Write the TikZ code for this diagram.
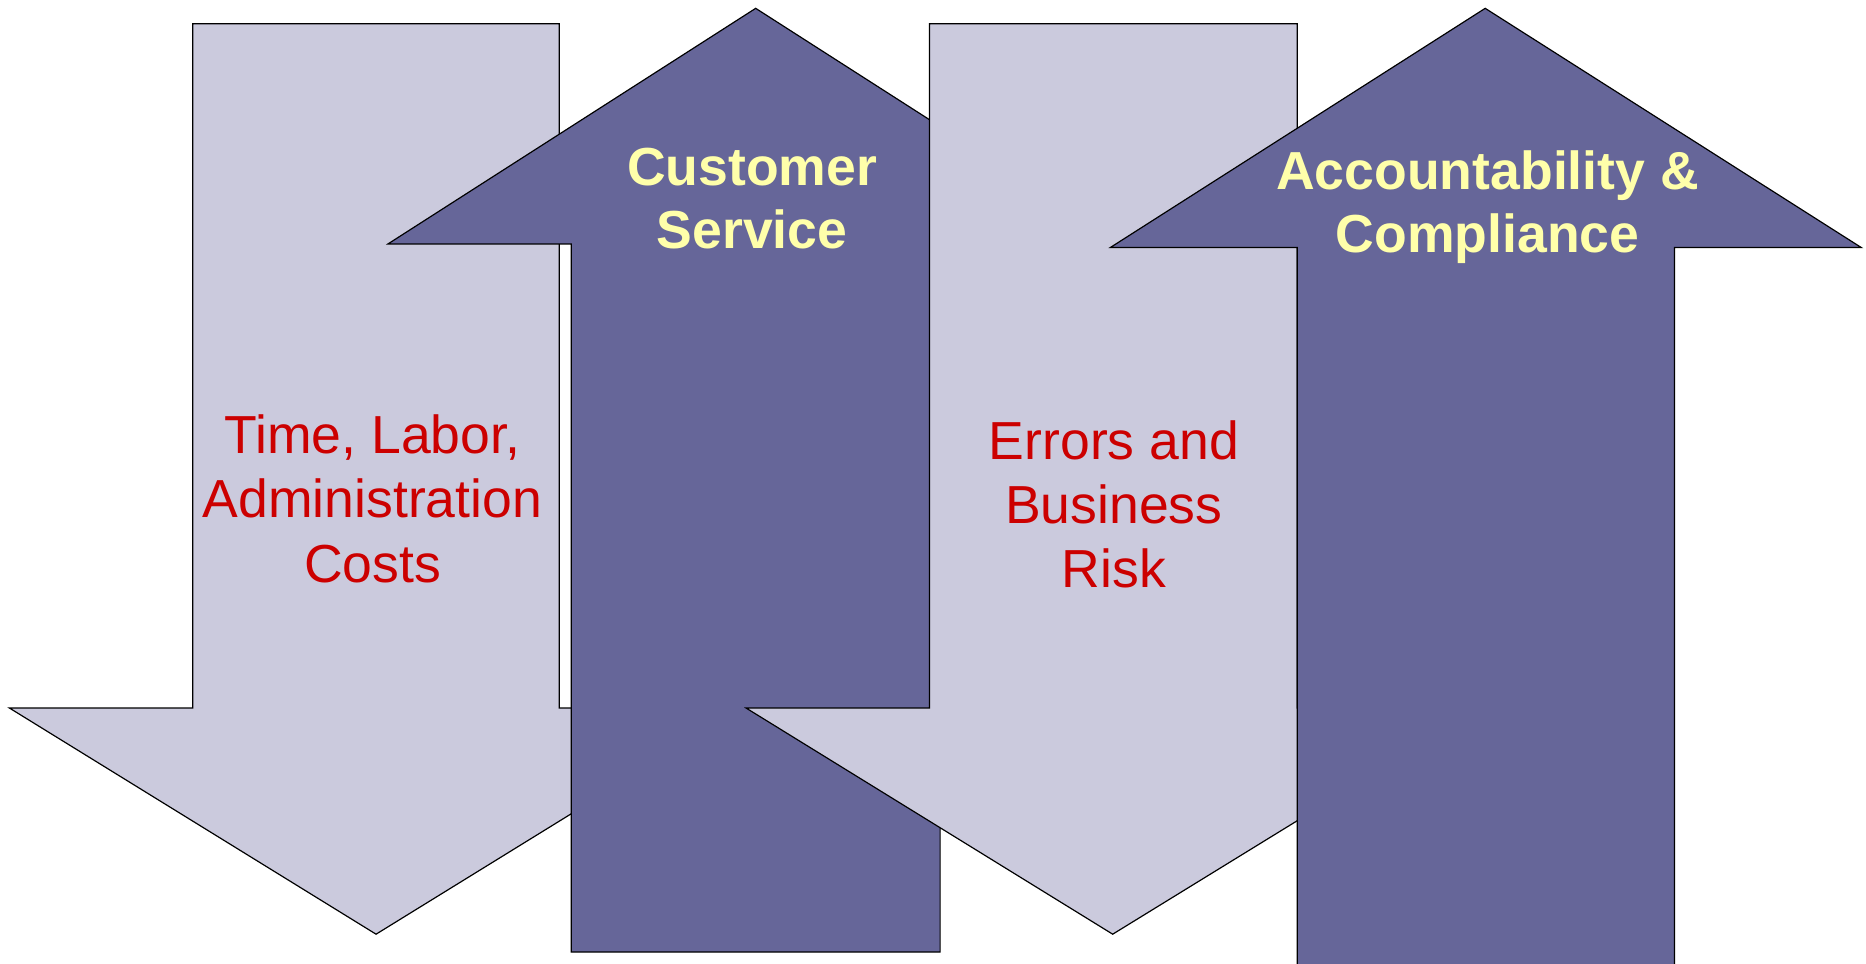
\documentclass[tikz,border=0pt]{standalone}
\usepackage{fontspec}
\setmainfont{Liberation Sans}

\begin{document}
\begin{tikzpicture}[x=1pt,y=-1pt,
    lightarrow/.style={draw=black,line width=1pt,line join=miter,fill=kLight},
    darkarrow/.style={draw=black,line width=1pt,line join=miter,fill=kDark},
    redlabel/.style={text=kRed,align=center,inner sep=0pt,
      font=\fontsize{45}{54}\selectfont},
    yellowlabel/.style={text=kYellow,align=center,inner sep=0pt,
      font=\fontsize{45}{53}\selectfont\bfseries}]
  \definecolor{kLight}{RGB}{203,202,221}
  \definecolor{kDark}{RGB}{102,102,153}
  \definecolor{kRed}{RGB}{204,0,0}
  \definecolor{kYellow}{RGB}{255,255,170}

  % frame
  \useasboundingbox (0,0) rectangle (1568,810);
  \clip (0,0) rectangle (1568,810);

  % down arrow - costs
  \draw[lightarrow] (162,20) -- (470,20) -- (470,595) -- (624,595)
    -- (316,785) -- (8,595) -- (162,595) -- cycle;

  % up arrow - service
  \draw[darkarrow] (480,800) -- (480,205) -- (326,205) -- (635,7)
    -- (944,205) -- (790,205) -- (790,800) -- cycle;

  % down arrow - risk
  \draw[lightarrow] (781,20) -- (1090,20) -- (1090,595) -- (1244,595)
    -- (935,785) -- (627,595) -- (781,595) -- cycle;

  % up arrow - compliance
  \draw[darkarrow] (1090,830) -- (1090,208) -- (933,208) -- (1248,7)
    -- (1564,208) -- (1407,208) -- (1407,830) -- cycle;

  % labels
  \node[redlabel] (costs) at (313,419) {Time, Labor,\\Administration\\Costs};
  \node[yellowlabel] (service) at (632,167) {Customer\\Service};
  \node[redlabel] (risk) at (936,424) {Errors and\\Business\\Risk};
  \node[yellowlabel] (compliance) at (1250,174) {Accountability \&\\Compliance};
\end{tikzpicture}
\end{document}
